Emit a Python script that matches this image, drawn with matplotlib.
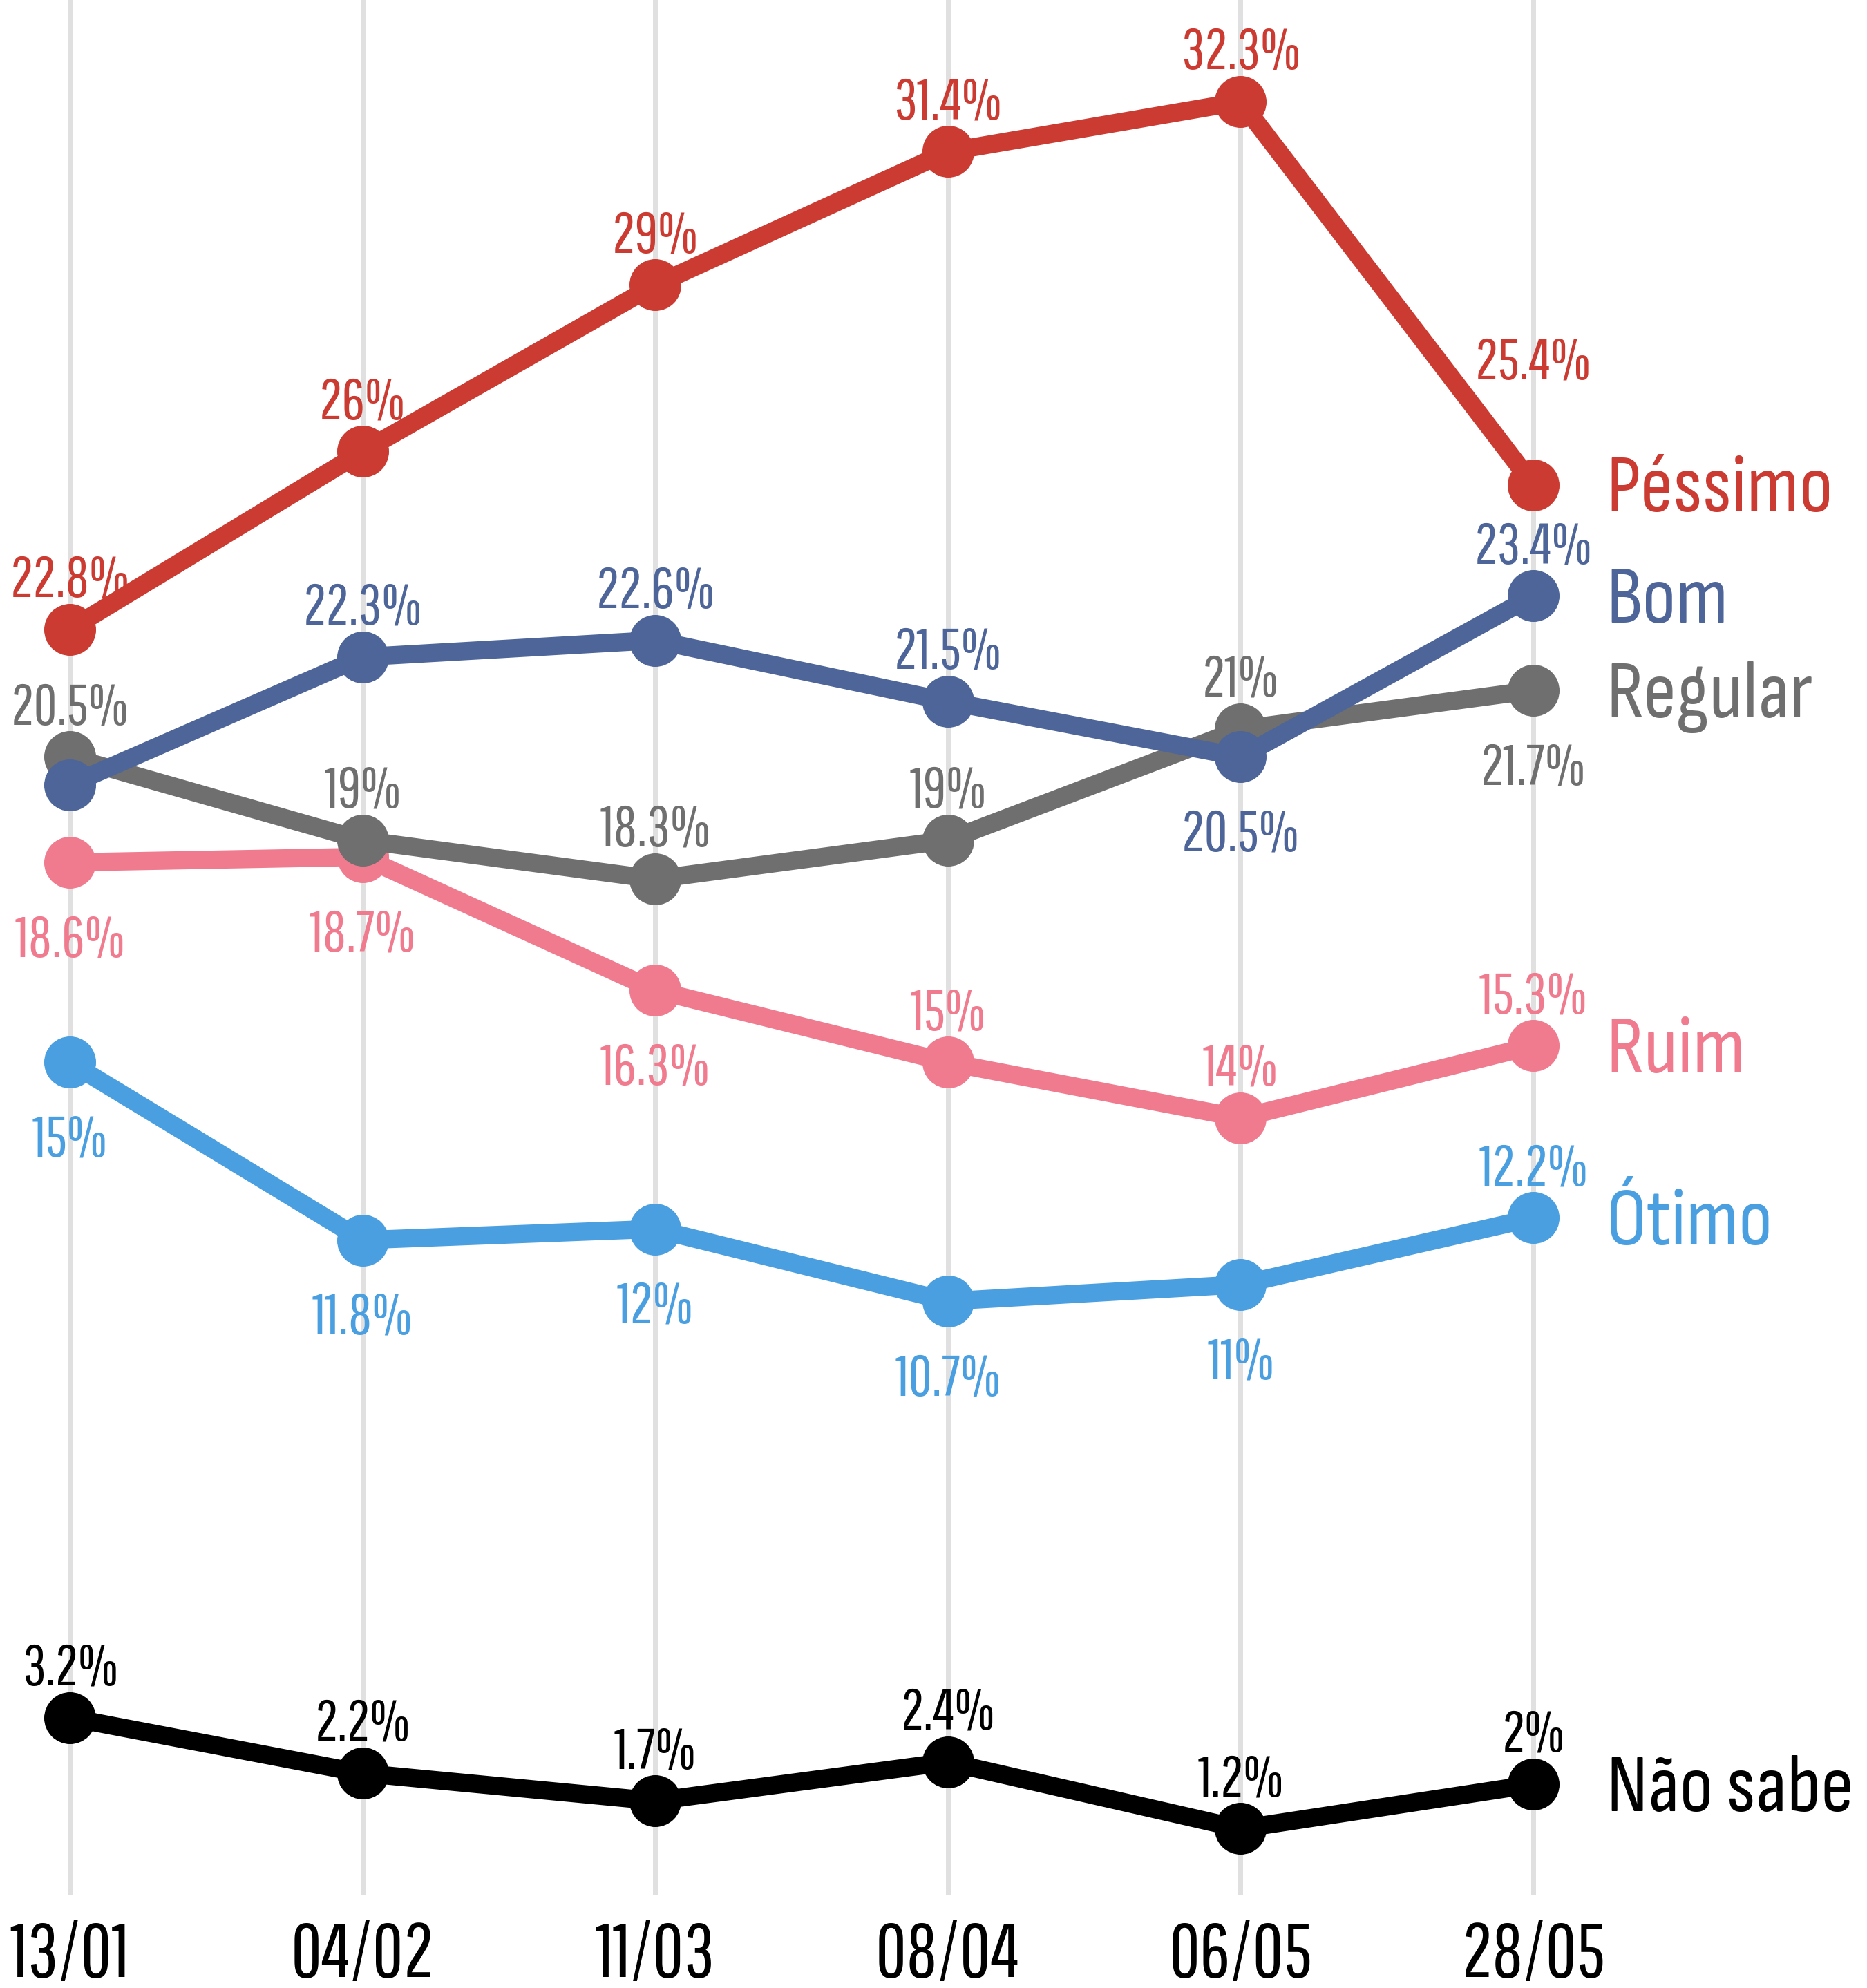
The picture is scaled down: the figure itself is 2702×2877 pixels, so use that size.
import matplotlib
matplotlib.use('Agg')
from matplotlib import pyplot as plt

# fontes estreitas: números e datas / nomes das séries
NUM_FONT = ['Pathway Gothic One', 'Roboto Condensed', 'DejaVu Sans']
NAME_FONT = ['Sofia Sans Condensed', 'Roboto Condensed', 'DejaVu Sans']
plt.rcParams['font.family'] = NUM_FONT

dates = ['13/01', '04/02', '11/03', '08/04', '06/05', '28/05']

pessimo = [22.8, 26, 29, 31.4, 32.3, 25.4]
bom = [20.0, 22.3, 22.6, 21.5, 20.5, 23.4]
regular = [20.5, 19, 18.3, 19, 21, 21.7]
ruim = [18.6, 18.7, 16.3, 15, 14, 15.3]
otimo = [15, 11.8, 12, 10.7, 11, 12.2]
nao_sabe = [3.2, 2.2, 1.7, 2.4, 1.2, 2]

pessimo_lbl = ['22.8%', '26%', '29%', '31.4%', '32.3%', '25.4%']
bom_lbl = [None, '22.3%', '22.6%', '21.5%', '20.5%', '23.4%']
regular_lbl = ['20.5%', '19%', '18.3%', '19%', '21%', '21.7%']
ruim_lbl = ['18.6%', '18.7%', '16.3%', '15%', '14%', '15.3%']
otimo_lbl = ['15%', '11.8%', '12%', '10.7%', '11%', '12.2%']
nao_sabe_lbl = ['3.2%', '2.2%', '1.7%', '2.4%', '1.2%', '2%']

# 1 = acima, 2 = bem acima, -1 = abaixo
pessimo_pos = [1, 1, 1, 1, 1, 2]
bom_pos = [1, 1, 1, 1, -1, 1]
regular_pos = [1, 1, 1, 1, 1, -1]
ruim_pos = [-1, -1, -1, 1, 1, 1]
otimo_pos = [-1, -1, -1, -1, -1, 1]
nao_sabe_pos = [1, 1, 1, 1, 1, 1]
offsets = {1: 34, 2: 110, -1: -98}

series = [
	# nome, valores, rótulos, posições, cor
	('Ruim', ruim, ruim_lbl, ruim_pos, '#f07b8f'),
	('Regular', regular, regular_lbl, regular_pos, '#6f6f6f'),
	('Bom', bom, bom_lbl, bom_pos, '#4d6599'),
	('Péssimo', pessimo, pessimo_lbl, pessimo_pos, '#cc3b32'),
	('Ótimo', otimo, otimo_lbl, otimo_pos, '#4a9fe0'),
	('Não sabe', nao_sabe, nao_sabe_lbl, nao_sabe_pos, '#000000'),
]

fig = plt.figure(figsize=(27.02, 28.77), dpi=100)
ax = fig.add_axes([0, 0.0466, 1, 0.9534])
ax.set_xlim(-0.2384, 6.140)
ax.set_ylim(0, 34.13)

x = list(range(len(dates)))
for xi in x:
	ax.axvline(xi, color='#e0e0e0', linewidth=5, zorder=0)

for z, (name, vals, lbls, pos, color) in enumerate(series):
	ax.plot(x, vals, '-o', color=color, linewidth=19, markersize=53, zorder=2+z)
	for xi, v, t, p in zip(x, vals, lbls, pos):
		if t is None:
			continue
		ax.annotate(t, (xi, v), xytext=(0, offsets[p]), textcoords='offset points',
			ha='center', va='baseline', fontsize=60, color=color, zorder=20)
	ax.annotate(name, (x[-1], vals[-1]), xytext=(76, -28), textcoords='offset points',
		ha='left', va='baseline', fontsize=85, color=color, family=NAME_FONT, zorder=20)

ax.set_xticks(x)
ax.set_xticklabels(dates, fontsize=79, va='baseline')
ax.tick_params(axis='x', length=0, pad=85)
ax.set_yticks([])
for s in ax.spines.values():
	s.set_visible(False)

fig.savefig('out.png', dpi=100)
